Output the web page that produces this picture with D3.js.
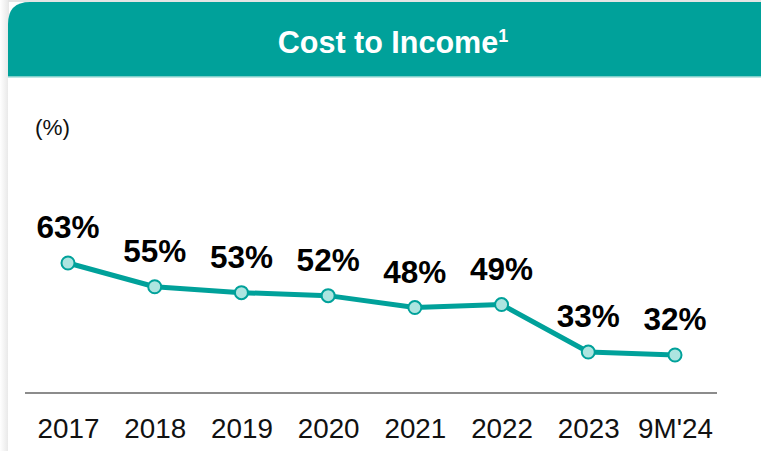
<!DOCTYPE html>
<html><head><meta charset="utf-8">
<script src="https://cdn.jsdelivr.net/npm/d3@7"></script>
<style>html,body{margin:0;padding:0;background:#fff;overflow:hidden}svg{display:block}</style>
</head><body>
<script>
const categories = ["2017","2018","2019","2020","2021","2022","2023","9M'24"];
const values = [63, 55, 53, 52, 48, 49, 33, 32];
const labels = ["63%","55%","53%","52%","48%","49%","33%","32%"];
const title = "Cost to Income";
const unitLabel = "(%)";

const W = 761, H = 451;
const teal = "#00A19A";
const svg = d3.select("body").append("svg").attr("width", W).attr("height", H);
const defs = svg.append("defs");
const grad = defs.append("linearGradient").attr("id","sh").attr("x1","0").attr("x2","1");
grad.append("stop").attr("offset","0").attr("stop-color","#ffffff");
grad.append("stop").attr("offset","1").attr("stop-color","#e6e6e6");
svg.append("rect").attr("x",0).attr("y",0).attr("width",9).attr("height",H).attr("fill","url(#sh)");
svg.append("rect").attr("x",8).attr("y",0).attr("width",W).attr("height",2).attr("fill","#e4e4e4");
// panel
svg.append("path")
  .attr("d", `M8,${H} L8,24 Q8,2 30,2 L${W+10},2 L${W+10},${H} Z`)
  .attr("fill","#fff");
svg.append("path")
  .attr("d", `M8,76 L8,24 Q8,2 30,2 L${W+10},2 L${W+10},76 Z`)
  .attr("fill", teal);
svg.append("rect").attr("x",8).attr("y",76).attr("width",W).attr("height",1.5).attr("fill","#7fcfca");

const t = svg.append("text").attr("x", 393).attr("y", 53).attr("text-anchor","middle")
  .attr("font-family","Liberation Sans, Arial, sans-serif").attr("font-weight","bold")
  .attr("font-size", 30.5).attr("fill","#fff");
t.append("tspan").text(title);
t.append("tspan").attr("font-size",18).attr("dy",-11).text("1");

svg.append("text").attr("x",35).attr("y",135).text(unitLabel)
  .attr("font-family","Liberation Sans, Arial, sans-serif").attr("font-size",22.5).attr("fill","#111");

const x = d3.scalePoint().domain(categories).range([68, 675]);
const y = d3.scaleLinear().domain([32, 63]).range([355, 263]);

// baseline axis
const axis = svg.append("g").attr("transform","translate(0,393)")
  .call(d3.axisBottom(x).tickSize(0).tickPadding(32));
axis.select(".domain").remove();
axis.append("line").attr("x1",25).attr("x2",717).attr("stroke","#8c8c8c").attr("stroke-width",2);
axis.selectAll(".tick text").attr("font-family","Liberation Sans, Arial, sans-serif")
  .attr("font-size",27.8).attr("fill","#111").attr("dy",0).attr("y",44.5);

const data = categories.map((c,i)=>({c, v: values[i], l: labels[i]}));
svg.append("path").datum(data)
  .attr("d", d3.line().x(d=>x(d.c)).y(d=>y(d.v)))
  .attr("fill","none").attr("stroke", teal).attr("stroke-width",5).attr("stroke-linejoin","round");
svg.selectAll("circle.pt").data(data).join("circle").attr("class","pt")
  .attr("cx", d=>x(d.c)).attr("cy", d=>y(d.v)).attr("r",6.5)
  .attr("fill","#ade5e0").attr("stroke", teal).attr("stroke-width",2);
svg.selectAll("text.lbl").data(data).join("text").attr("class","lbl")
  .attr("x", d=>x(d.c)).attr("y", d=>y(d.v)-25).attr("text-anchor","middle")
  .attr("font-family","Liberation Sans, Arial, sans-serif").attr("font-weight","bold")
  .attr("font-size",31.5).attr("fill","#000").text(d=>d.l);
</script>
</body></html>
